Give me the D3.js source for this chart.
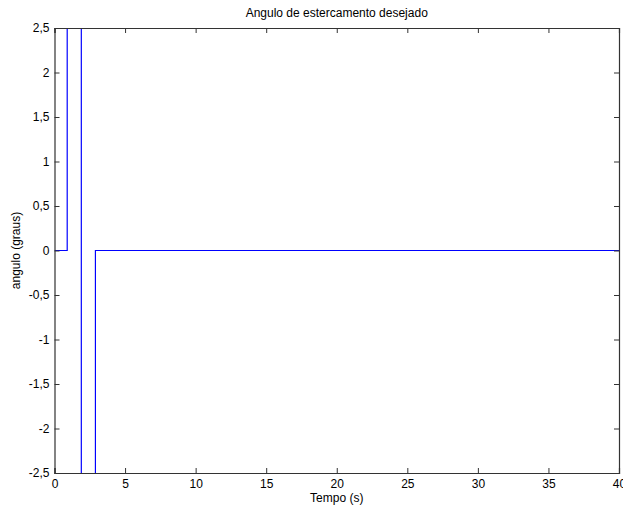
<!DOCTYPE html>
<html>
<head>
<meta charset="utf-8">
<script src="https://cdn.jsdelivr.net/npm/d3@7"></script>
<style>
  body { margin: 0; background: #fff; }
  svg { display: block; font-family: "Liberation Sans", Arial, sans-serif; }
</style>
</head>
<body>
<svg id="chart" width="623" height="510"></svg>
<script>
// desired steering angle signal (step points, values beyond +/-2.5 are clipped)
const tempo = [0, 0.9, 0.9, 1.9, 1.9, 2.9, 2.9, 40];
const angulo = [0, 0, 5, 5, -5, -5, 0, 0];
const xTicks = [0, 5, 10, 15, 20, 25, 30, 35, 40];
const yTicks = [-2.5, -2, -1.5, -1, -0.5, 0, 0.5, 1, 1.5, 2, 2.5];

const svg = d3.select('#chart');
const margin = { top: 28, right: 4, bottom: 37, left: 54.5 };
const width = +svg.attr('width');
const height = +svg.attr('height');

const x = d3.scaleLinear().domain([0, 40]).range([margin.left, width - margin.right]);
const y = d3.scaleLinear().domain([-2.5, 2.5]).range([height - margin.bottom, margin.top]);

const fmt = d => String(d).replace('.', ',');

svg.append('defs').append('clipPath').attr('id', 'clip')
  .append('rect')
    .attr('x', x(0)).attr('y', y(2.5))
    .attr('width', x(40) - x(0)).attr('height', y(-2.5) - y(2.5));

// signal
const line = d3.line()
    .x((d, i) => x(tempo[i]))
    .y(d => y(d));
svg.append('path')
    .datum(angulo)
    .attr('clip-path', 'url(#clip)')
    .attr('fill', 'none')
    .attr('stroke', '#0000ff')
    .attr('stroke-width', 1.2)
    .attr('d', line);

// axes with inward ticks
const tick = 5;
svg.append('g')
    .attr('transform', `translate(0,${y(-2.5)})`)
    .call(d3.axisBottom(x).tickValues(xTicks).tickSize(-tick).tickPadding(6).tickFormat(fmt));
svg.append('g')
    .attr('transform', `translate(0,${y(2.5)})`)
    .call(d3.axisTop(x).tickValues(xTicks).tickSize(-tick).tickFormat(''));
svg.append('g')
    .attr('transform', `translate(${x(0)},0)`)
    .call(d3.axisLeft(y).tickValues(yTicks).tickSize(-tick).tickPadding(5).tickFormat(fmt));
svg.append('g')
    .attr('transform', `translate(${x(40)},0)`)
    .call(d3.axisRight(y).tickValues(yTicks).tickSize(-tick).tickFormat(''));

svg.selectAll('.domain').attr('stroke', '#333').attr('stroke-width', 1.2);
svg.selectAll('.tick line').attr('stroke', '#333');
svg.selectAll('.tick text').attr('font-size', 12).attr('fill', '#000')
    .attr('font-family', '"Liberation Sans", Arial, sans-serif');

// labels
svg.append('text')
    .attr('x', (x(0) + x(40)) / 2).attr('y', 17)
    .attr('text-anchor', 'middle').attr('font-size', 12)
    .text('Angulo de estercamento desejado');
svg.append('text')
    .attr('x', (x(0) + x(40)) / 2).attr('y', 502)
    .attr('text-anchor', 'middle').attr('font-size', 12)
    .text('Tempo (s)');
svg.append('text')
    .attr('transform', `translate(20,${(y(2.5) + y(-2.5)) / 2}) rotate(-90)`)
    .attr('text-anchor', 'middle').attr('font-size', 12)
    .text('angulo (graus)');
</script>
</body>
</html>
